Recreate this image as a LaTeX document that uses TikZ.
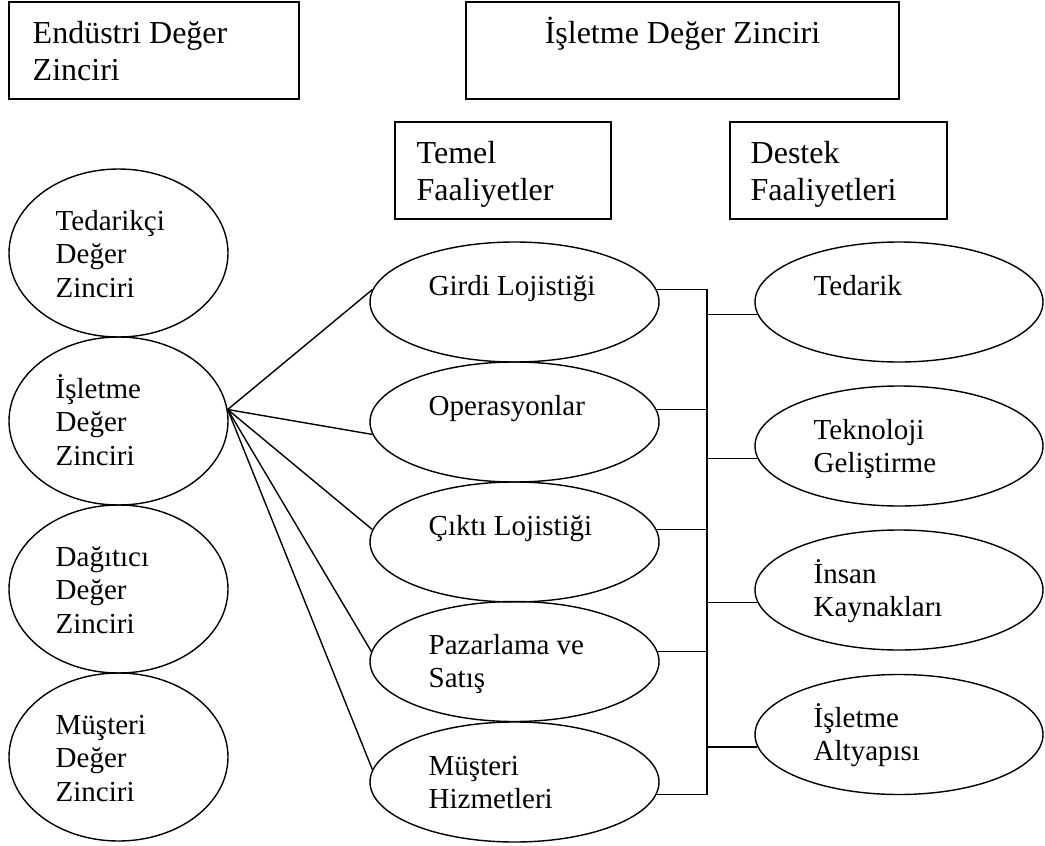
\documentclass[tikz,border=0pt]{standalone}
\usepackage{fontspec}
\setmainfont{Liberation Serif}
\usetikzlibrary{shapes.geometric,calc}
% a top-aligned, left-aligned block of lines; #1 = font size, #2 = line spacing
\newcommand\textlines[3]{\parbox[t]{400pt}{\fontsize{#1}{#2}\selectfont\raggedright #3}}
\begin{document}
\begin{tikzpicture}[x=1pt,y=-1pt,line width=1.4pt,
  frame/.style={draw,rectangle,inner sep=0pt,minimum width=#1,minimum height=97pt},
  leftoval/.style={draw,ellipse,inner sep=0pt,minimum width=219pt,minimum height=168pt},
  actoval/.style={draw,ellipse,inner sep=0pt,minimum width=289pt,minimum height=120pt},
  txt/.style={inner sep=0pt,anchor=base west},
]
\useasboundingbox (0,0) rectangle (1045,846);

% header boxes
\node[frame=290pt] (ind)  at (154,50.5) {};
\node[frame=433pt] (firm) at (682.5,50.5) {};
\node[frame=216pt] (prim) at (503,170.5) {};
\node[frame=217pt] (supp) at (838.5,170.5) {};
\node[txt] (indT) at (32,43) {\textlines{32}{37}{Endüstri Değer\\Zinciri}};
\node[txt,anchor=base] (firmT) at (682.5,43) {\fontsize{32}{37}\selectfont İşletme Değer Zinciri};
\node[txt] (primT) at (416,163) {\textlines{32}{37}{Temel\\Faaliyetler}};
\node[txt] (suppT) at (750,163) {\textlines{32}{37}{Destek\\Faaliyetleri}};

% industry value chain
\node[leftoval] (sup)  at (118.5,253) {};
\node[leftoval] (own)  at (118.5,421) {};
\node[leftoval] (dist) at (118.5,589) {};
\node[leftoval] (cust) at (118.5,757) {};
\node[txt] (supT)  at ($(sup)+(-63.5,-23)$)  {\textlines{29}{33.5}{Tedarikçi\\Değer\\Zinciri}};
\node[txt] (ownT)  at ($(own)+(-63.5,-23)$)  {\textlines{29}{33.5}{İşletme\\Değer\\Zinciri}};
\node[txt] (distT) at ($(dist)+(-63.5,-23)$) {\textlines{29}{33.5}{Dağıtıcı\\Değer\\Zinciri}};
\node[txt] (custT) at ($(cust)+(-63.5,-23)$) {\textlines{29}{33.5}{Müşteri\\Değer\\Zinciri}};

% primary activities
\node[actoval] (in)  at (514.5,302) {};
\node[actoval] (ops) at (514.5,422) {};
\node[actoval] (out) at (514.5,542) {};
\node[actoval] (mkt) at (514.5,661.5) {};
\node[actoval] (svc) at (514.5,782) {};
\node[txt] (inT)  at ($(in)+(-86.5,-7)$)  {\textlines{29}{33}{Girdi Lojistiği}};
\node[txt] (opsT) at ($(ops)+(-86.5,-7)$) {\textlines{29}{33}{Operasyonlar}};
\node[txt] (outT) at ($(out)+(-86.5,-7)$) {\textlines{29}{33}{Çıktı Lojistiği}};
\node[txt] (mktT) at ($(mkt)+(-86.5,-7)$) {\textlines{29}{33}{Pazarlama ve\\Satış}};
\node[txt] (svcT) at ($(svc)+(-86.5,-7)$) {\textlines{29}{33}{Müşteri\\Hizmetleri}};

% support activities
\node[actoval,minimum width=288pt] (proc)  at (899,302) {};
\node[actoval,minimum width=288pt] (tech)  at (899,446) {};
\node[actoval,minimum width=288pt] (hr)    at (899,590) {};
\node[actoval,minimum width=288pt] (infra) at (899,734.5) {};
\node[txt] (procT)  at ($(proc)+(-86,-7)$)  {\textlines{29}{33}{Tedarik}};
\node[txt] (techT)  at ($(tech)+(-86,-7)$)  {\textlines{29}{33}{Teknoloji\\Geliştirme}};
\node[txt] (hrT)    at ($(hr)+(-86,-7)$)    {\textlines{29}{33}{İnsan\\Kaynakları}};
\node[txt] (infraT) at ($(infra)+(-86,-7)$) {\textlines{29}{33}{İşletme\\Altyapısı}};

% fan from the firm value chain to the primary activities
\foreach \t/\a in {in/175,ops/185,out/175,mkt/176,svc/175}
  \draw (own.6) -- (\t.\a);

% bus between primary and support activities
\coordinate (bus) at (707,0);
\draw (in.5) -- (in.5 -| bus) -- (svc.355 -| bus) -- (svc.355);
\foreach \s/\a in {ops/5,out/5,mkt/4}
  \draw (\s.\a) -- (\s.\a -| bus);
\foreach \t in {proc,tech,hr,infra}
  \draw (\t.185 -| bus) -- (\t.185);
\end{tikzpicture}
\end{document}
